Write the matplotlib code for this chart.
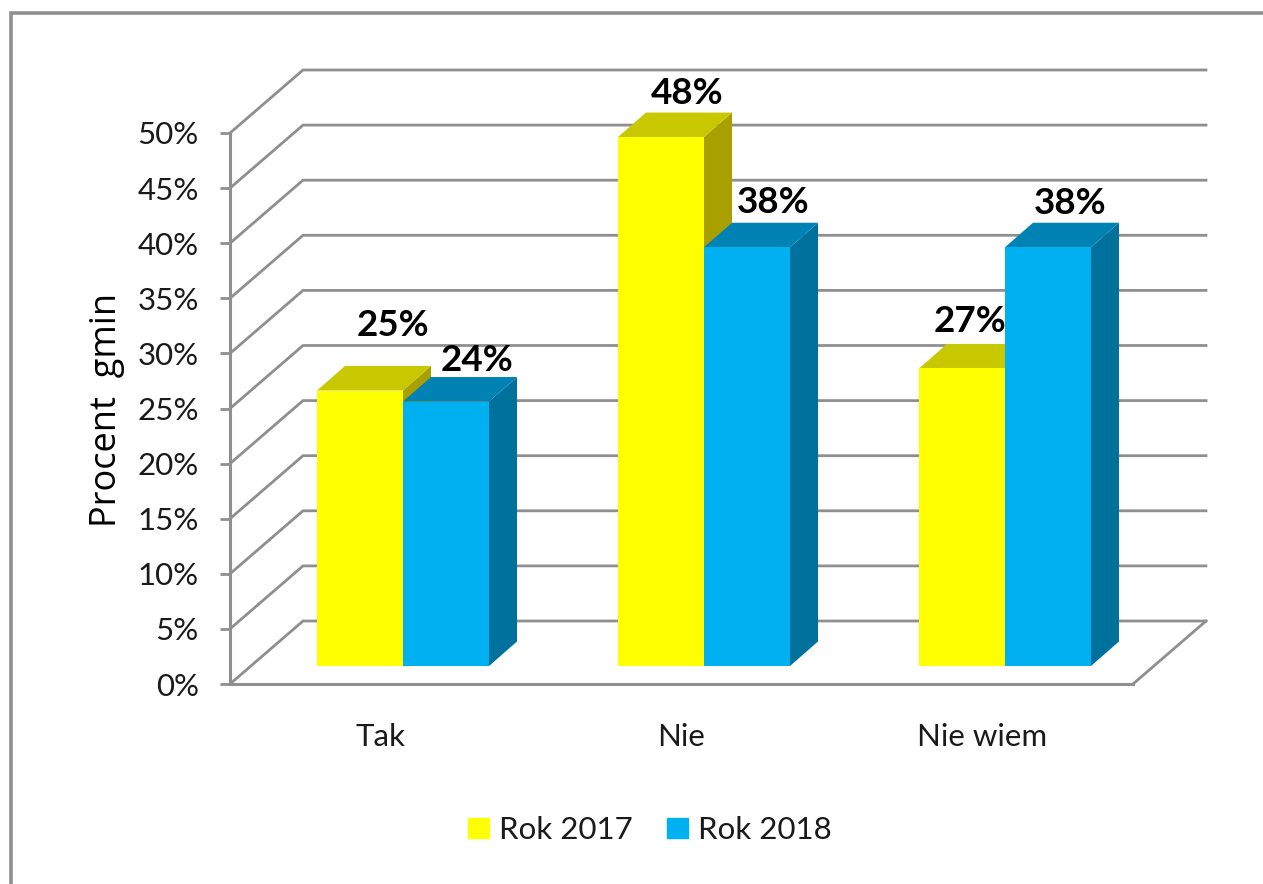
import matplotlib
matplotlib.use("Agg")
import matplotlib.pyplot as plt
from matplotlib.lines import Line2D
from matplotlib.patches import Patch, Polygon

# Data
CATEGORIES = ["Tak", "Nie", "Nie wiem"]
SERIES_NAMES = ["Rok 2017", "Rok 2018"]
ROK_2017 = [25, 48, 27]
ROK_2018 = [24, 38, 38]
Y_TICKS = [0, 5, 10, 15, 20, 25, 30, 35, 40, 45, 50]

# Look
W, H = 1263, 884
GREY = "#8f8f8f"
FRONT = ["#ffff00", "#00b0f0"]
TOP = ["#c8c800", "#0083b4"]
SIDE = ["#a8a000", "#00719c"]
FONT = ["Lato"]
TEXT = "#1a1a1a"

# Pixel scale of the front plane
PX_X = 301.0
PX_Y = 11.02
AXIS_X = 230
AXIS_Y = 684

# 3D offsets, converted to data units
WALL_DX, WALL_DY = 73 / PX_X, 63 / PX_Y
BAR_X0, BAR_Y0 = 22.5 / PX_X, 18 / PX_Y
BAR_DX, BAR_DY = 28 / PX_X, 24.5 / PX_Y
BAR_W = 86 / PX_X

# Nudge of each value label from its bar's top centre, in pixels
LABEL_NUDGE = [[(33, 65), (26, 44), (8, 47)],
               [(31, 41), (26, 45), (22, 44)]]


def box(ax, x, value, series):
    x1 = x + BAR_W
    y0, y1 = BAR_Y0, value + BAR_Y0
    ax.add_patch(Polygon([(x1, y0), (x1 + BAR_DX, y0 + BAR_DY),
                          (x1 + BAR_DX, y1 + BAR_DY), (x1, y1)],
                         color=SIDE[series], lw=0, zorder=3))
    ax.add_patch(Polygon([(x, y1), (x1, y1), (x1 + BAR_DX, y1 + BAR_DY),
                          (x + BAR_DX, y1 + BAR_DY)],
                         color=TOP[series], lw=0, zorder=3))
    ax.bar(x, value, BAR_W, bottom=BAR_Y0, align="edge",
           color=FRONT[series], zorder=3)


def main():
    plt.rcParams["font.family"] = FONT
    fig = plt.figure(figsize=(W / 100, H / 100), dpi=100)
    ax = fig.add_axes([0, 0, 1, 1])
    ax.set_xlim(-AXIS_X / PX_X, (W - AXIS_X) / PX_X)
    ax.set_ylim(-(H - AXIS_Y) / PX_Y, AXIS_Y / PX_Y)
    ax.patch.set_alpha(0)

    # walls and gridlines
    n = len(CATEGORIES)
    for t in Y_TICKS:
        ax.plot([0, WALL_DX, n + WALL_DX],
                [t, t + WALL_DY, t + WALL_DY],
                color=GREY, lw=2.0, zorder=1, solid_joinstyle="miter")
    ax.plot([n, n + WALL_DX], [0, WALL_DY], color=GREY, lw=2.0, zorder=1)

    for i in range(n):
        cx = i + 0.5 + BAR_X0
        for s, values in enumerate([ROK_2017, ROK_2018]):
            x = cx - BAR_W if s == 0 else cx
            box(ax, x, values[i], s)
            nx, ny = LABEL_NUDGE[s][i]
            ax.annotate(f"{values[i]}%", (x + BAR_W / 2, values[i] + BAR_Y0),
                        xytext=(nx * 0.72, ny * 0.72),
                        textcoords="offset points", ha="center", va="center",
                        fontsize=26.5, fontweight="bold", color="black", zorder=5)

    # axes
    for side in ["top", "right"]:
        ax.spines[side].set_visible(False)
    ax.spines["left"].set_position(("data", 0))
    ax.spines["left"].set_bounds(0, Y_TICKS[-1])
    ax.spines["bottom"].set_position(("data", 0))
    ax.spines["bottom"].set_bounds(0, n)
    for side in ["left", "bottom"]:
        ax.spines[side].set_color(GREY)
        ax.spines[side].set_linewidth(2.2)
    ax.set_yticks(Y_TICKS, [f"{t}%" for t in Y_TICKS])
    ax.set_xticks([i + 0.5 for i in range(n)], CATEGORIES)
    ax.tick_params(axis="y", length=7.5, width=2.0, color=GREY, pad=15,
                   labelsize=22.5, labelcolor=TEXT)
    ax.tick_params(axis="x", length=0, pad=28, labelsize=22.5, labelcolor=TEXT)

    fig.text(107 / W, 1 - 410 / H, "Procent  gmin", rotation=90, ha="center",
             va="center", fontsize=26, color="black", family="Open Sans")

    handles = [Patch(color=c) for c in FRONT]
    ax.legend(handles, SERIES_NAMES, loc="center", ncol=2, frameon=False,
              bbox_to_anchor=(650 / W, 1 - 830 / H), fontsize=22.5,
              handlelength=0.65, handleheight=0.65, handletextpad=0.33,
              columnspacing=1.1, labelcolor=TEXT)

    # outer frame, open towards right and bottom
    x0, y0 = 11 / W, 1 - 13 / H
    fig.add_artist(Line2D([x0, x0, 1], [0, y0, y0], color=GREY, lw=2.6,
                          solid_joinstyle="miter"))

    fig.savefig("out.png", dpi=100)


if __name__ == "__main__":
    main()
